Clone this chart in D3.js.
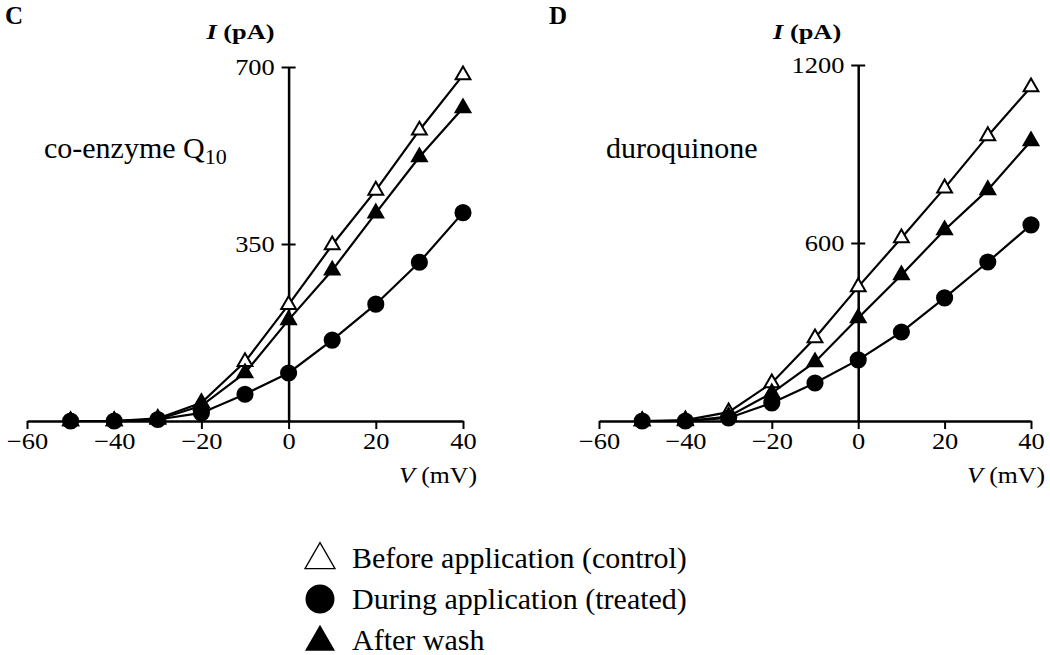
<!DOCTYPE html>
<html>
<head>
<meta charset="utf-8">
<script src="https://cdn.jsdelivr.net/npm/d3@7"></script>
<style>
  body { margin: 0; background: #fff; }
  svg { display: block; font-family: "Liberation Serif", "DejaVu Serif", serif; }
</style>
</head>
<body>
<div id="chart"></div>
<script>
// 电压 (mV)
const voltages = [-50, -40, -30, -20, -10, 0, 10, 20, 30, 40]
const xTicks = [-60, -40, -20, 0, 20, 40]

// 面板 C : co-enzyme Q10 (pA)
const coqControl = [0, 0, 5, 36, 117, 230, 348, 456, 575, 684]
const coqTreated = [0, 0, 3, 16, 53, 95, 160, 231, 314, 412]
const coqWash = [0, 0, 3, 30, 95, 200, 298, 411, 522, 619]
const coqTicks = [350, 700]

// 面板 D : duroquinone (pA)
const duroControl = [0, 3, 30, 128, 280, 452, 617, 785, 961, 1126]
const duroTreated = [0, 0, 10, 61, 128, 206, 300, 415, 536, 661]
const duroWash = [0, 0, 15, 94, 199, 347, 492, 644, 779, 944]
const duroTicks = [600, 1200]

const legendNames = ['Before application (control)', 'During application (treated)', 'After wash']

const W = 1050, H = 655
const svg = d3.select('#chart').append('svg').attr('width', W).attr('height', H)

// 标记样式
const markStyle = [
  { type: d3.symbolTriangle, fill: '#fff' },   // control
  { type: d3.symbolCircle, fill: '#000' },     // treated
  { type: d3.symbolTriangle, fill: '#000' }    // wash
]

// 原图文字横向略宽，用 scale 拉伸
const stretch = 'scale(1.15,1)'

function drawPanel(conf) {
  const x = d3.scaleLinear().domain([-60, 40]).range(conf.xRange)
  const y = d3.scaleLinear().domain([0, conf.yMax]).range([421, conf.yTop])
  const g = svg.append('g')

  // x 轴
  const xAxis = g.append('g')
    .attr('transform', 'translate(0,' + y(0) + ')')
    .call(d3.axisBottom(x).tickValues(xTicks).tickSizeInner(8).tickSizeOuter(0).tickPadding(4))
  xAxis.select('.domain').attr('stroke-width', 2.5)
  xAxis.selectAll('.tick line').attr('stroke-width', 2)
  xAxis.selectAll('.tick text')
    .attr('font-size', 23)
    .attr('font-family', '"Liberation Serif", serif')
    .attr('transform', stretch)

  // y 轴 (在 V = 0 处)
  const yAxis = g.append('g')
    .attr('transform', 'translate(' + x(0) + ',0)')
    .call(d3.axisLeft(y).tickValues(conf.yTicks).tickFormat(d3.format('d'))
      .tickSizeInner(7).tickSizeOuter(0).tickPadding(5))
  yAxis.select('.domain').attr('stroke-width', 2.5)
  yAxis.selectAll('.tick line').attr('x2', -7).attr('x1', 7).attr('stroke-width', 2)
  yAxis.selectAll('.tick text')
    .attr('font-size', 23)
    .attr('font-family', '"Liberation Serif", serif')
    .attr('transform', stretch)

  // 曲线
  const line = d3.line().x((d, i) => x(voltages[i])).y(d => y(d))
  conf.series.forEach(s => {
    g.append('path')
      .attr('d', line(s))
      .attr('fill', 'none')
      .attr('stroke', '#000')
      .attr('stroke-width', 2.2)
  })

  // 标记
  conf.series.forEach((s, k) => {
    const sym = d3.symbol().type(markStyle[k].type).size(k === 1 ? 180 : 95)
    g.selectAll('.m' + k)
      .data(s)
      .enter()
      .append('path')
      .attr('class', 'm' + k)
      .attr('transform', (d, i) => 'translate(' + x(voltages[i]) + ',' + y(d) + ')')
      .attr('d', sym())
      .attr('fill', markStyle[k].fill)
      .attr('stroke', '#000')
      .attr('stroke-width', 2)
  })

  // 面板字母
  g.append('text')
    .attr('x', conf.letterX).attr('y', 24)
    .attr('font-size', 25).attr('font-weight', 'bold')
    .text(conf.letter)

  // y 轴标题
  const yt = g.append('g')
    .attr('transform', 'translate(' + (x(0) - conf.yTitleGap) + ',39) scale(1.2,1)')
    .append('text')
    .attr('text-anchor', 'end')
    .attr('font-size', 22).attr('font-weight', 'bold')
  yt.append('tspan').attr('font-style', 'italic').text('I')
  yt.append('tspan').text(' (pA)')

  // x 轴标题
  const xt = g.append('g')
    .attr('transform', 'translate(' + (conf.xRange[1] + 14) + ',483) scale(1.12,1)')
    .append('text')
    .attr('text-anchor', 'end')
    .attr('font-size', 23)
  xt.append('tspan').attr('font-style', 'italic').text('V')
  xt.append('tspan').text(' (mV)')

  // 药物名称
  const nm = g.append('text')
    .attr('x', conf.nameX).attr('y', 158)
    .attr('font-size', 30)
  nm.append('tspan').text(conf.name)
  if (conf.sub) {
    nm.append('tspan').attr('font-size', 22).attr('dy', 6).text(conf.sub)
  }
}

drawPanel({
  letter: 'C', letterX: 5, name: 'co-enzyme Q', sub: '10', nameX: 44,
  xRange: [27, 463], yMax: 700, yTop: 67, yTicks: coqTicks, yTitleGap: 14,
  series: [coqControl, coqTreated, coqWash]
})

drawPanel({
  letter: 'D', letterX: 549, name: 'duroquinone', nameX: 606,
  xRange: [599, 1031], yMax: 1200, yTop: 65, yTicks: duroTicks, yTitleGap: 17,
  series: [duroControl, duroTreated, duroWash]
})

// 图例
const legend = svg.append('g').attr('transform', 'translate(320,0)')
const legendY = [558, 599, 640]
legendNames.forEach((name, k) => {
  const sym = d3.symbol().type(markStyle[k].type).size(k === 1 ? 660 : 390)
  legend.append('path')
    .attr('transform', 'translate(0,' + (legendY[k] + (k === 1 ? 0 : 2)) + ')')
    .attr('d', sym())
    .attr('fill', markStyle[k].fill)
    .attr('stroke', '#000')
    .attr('stroke-width', k === 0 ? 1.3 : 0)
  legend.append('text')
    .attr('x', 32).attr('y', legendY[k] + 10)
    .attr('font-size', 30)
    .text(name)
})
</script>
</body>
</html>
